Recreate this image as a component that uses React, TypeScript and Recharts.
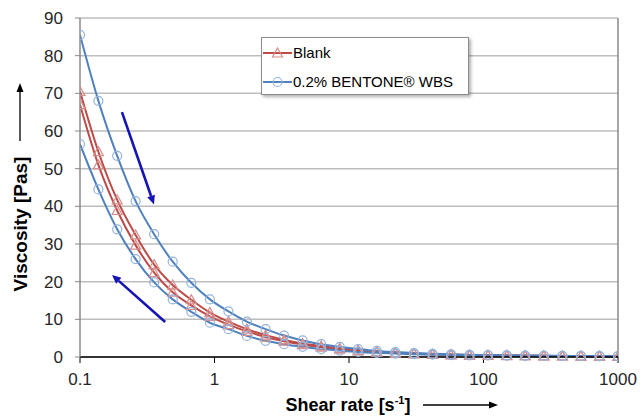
import React from "react";
import {
  CartesianGrid,
  Line,
  LineChart,
  ReferenceLine,
  XAxis,
  YAxis,
} from "recharts";

// shear rate [1/s], 30 log-spaced steps from 0.1 to 1000
const shearRates = [
  0.1, 0.137, 0.189, 0.259, 0.356, 0.489, 0.672, 0.924, 1.27, 1.74, 2.4, 3.29,
  4.52, 6.21, 8.53, 11.7, 16.1, 22.1, 30.4, 41.8, 57.4, 78.8, 108, 149, 204, 281,
  386, 530, 728, 1000,
];

// viscosity [Pas]
const blankUp = [
  70.5, 54.5, 41.7, 32.4, 24.5, 19.1, 15.2, 11.8, 9.4, 7.4, 5.8, 4.6, 3.6, 2.9,
  2.3, 1.8, 1.45, 1.15, 0.92, 0.75, 0.62, 0.52, 0.45, 0.4, 0.35, 0.31, 0.28, 0.25,
  0.22, 0.2,
];
const blankDown = [
  67, 51, 38.9, 29.7, 22.4, 17.2, 13.7, 10.8, 8.6, 6.8, 5.3, 4.2, 3.3, 2.6, 2.1,
  1.65, 1.3, 1.05, 0.85, 0.7, 0.58, 0.5, 0.43, 0.38, 0.34, 0.3, 0.27, 0.24, 0.21,
  0.19,
];
const bentoneUp = [
  85.5, 68, 53.4, 41.4, 32.6, 25.3, 19.7, 15.3, 12.1, 9.4, 7.4, 5.7, 4.4, 3.4,
  2.7, 2.1, 1.6, 1.3, 1.05, 0.85, 0.7, 0.58, 0.5, 0.43, 0.38, 0.33, 0.3, 0.27,
  0.24, 0.22,
];
const bentoneDown = [
  56.5, 44.5, 33.9, 26.0, 19.8, 15.3, 12.0, 9.1, 7.4, 5.6, 4.3, 3.4, 2.7, 2.1,
  1.7, 1.35, 1.1, 0.9, 0.75, 0.62, 0.52, 0.45, 0.4, 0.35, 0.31, 0.28, 0.26, 0.24,
  0.22, 0.2,
];

const xTicks = [0.1, 1, 10, 100, 1000];
const yTicks = [0, 10, 20, 30, 40, 50, 60, 70, 80, 90];

const seriesNames = ["Blank", "0.2% BENTONE® WBS"];

// sweep direction arrows [start, end] in data units
const upArrow = [
  { x: 0.205, y: 65 },
  { x: 0.355, y: 40.5 },
];
const downArrow = [
  { x: 0.43, y: 9.3 },
  { x: 0.173, y: 21.8 },
];

const data = shearRates.map((rate, i) => ({
  rate,
  blankUp: blankUp[i],
  blankDown: blankDown[i],
  bentoneUp: bentoneUp[i],
  bentoneDown: bentoneDown[i],
}));

const RED = "#be4b48";
const RED_MARK = "#d68d8b";
const BLUE = "#4f81bd";
const BLUE_MARK = "#93b3db";
const FONT = "'Liberation Sans', Arial, sans-serif";

const Triangle = (props: any) => {
  const { cx, cy, index } = props;
  if (cx == null || cy == null) return <g key={index} />;
  const s = 5;
  return (
    <polygon
      key={index}
      points={`${cx},${cy - s} ${cx - s},${cy + s * 0.8} ${cx + s},${cy + s * 0.8}`}
      fill="none"
      stroke={RED_MARK}
      strokeWidth={1.2}
    />
  );
};

const circleDot = { r: 4.5, stroke: BLUE_MARK, strokeWidth: 1.2, fill: "none" };

const Arrow = (props: any) => {
  const { x1, y1, x2, y2 } = props;
  const ang = Math.atan2(y2 - y1, x2 - x1);
  const len = 9;
  const w = 4;
  const bx = x2 - len * Math.cos(ang);
  const by = y2 - len * Math.sin(ang);
  const px = -Math.sin(ang) * w;
  const py = Math.cos(ang) * w;
  return (
    <g>
      <line x1={x1} y1={y1} x2={bx} y2={by} stroke="#1414b4" strokeWidth={2.6} />
      <polygon
        points={`${x2},${y2} ${bx + px},${by + py} ${bx - px},${by - py}`}
        fill="#1414b4"
      />
    </g>
  );
};

const XLabel = (props: any) => {
  const { viewBox } = props;
  const cx = viewBox.x + viewBox.width / 2;
  const y = viewBox.y + 54;
  return (
    <g>
      <text
        x={cx - 1}
        y={y}
        textAnchor="middle"
        fontFamily={FONT}
        fontWeight="bold"
        fontSize={18}
        fill="#000"
      >
        Shear rate [s
        <tspan fontSize={11} dy={-7}>
          -1
        </tspan>
        <tspan dy={7}>]</tspan>
      </text>
      <line x1={cx + 74} y1={y - 6} x2={cx + 144} y2={y - 6} stroke="#000" strokeWidth={1.3} />
      <polygon
        points={`${cx + 149},${y - 6} ${cx + 140},${y - 9.5} ${cx + 140},${y - 2.5}`}
        fill="#000"
      />
    </g>
  );
};

const YLabel = () => {
  const x = 20;
  const cy = 224;
  return (
    <g>
      <text
        x={x}
        y={cy}
        transform={`rotate(-90, ${x}, ${cy})`}
        textAnchor="middle"
        dominantBaseline="central"
        fontFamily={FONT}
        fontWeight="bold"
        fontSize={19}
        fill="#000"
      >
        Viscosity [Pas]
      </text>
      <line x1={x} y1={141} x2={x} y2={88} stroke="#000" strokeWidth={1.3} />
      <polygon points={`${x},${83} ${x - 3.5},${92} ${x + 3.5},${92}`} fill="#000" />
    </g>
  );
};

const LegendBox = () => (
  <div
    style={{
      position: "absolute",
      left: 261,
      top: 37,
      width: 206,
      height: 56,
      border: "1px solid #8c8c8c",
      boxShadow: "2px 2px 3px rgba(0,0,0,0.3)",
      background: "#fff",
      fontFamily: FONT,
      fontSize: 15,
      color: "#000",
    }}
  >
    {seriesNames.map((name, i) => (
      <div key={name} style={{ display: "flex", alignItems: "center", height: 29 }}>
        <svg width={31} height={16} style={{ display: "block" }}>
          <line x1={1} y1={8} x2={30} y2={8} stroke={i === 0 ? RED : BLUE} strokeWidth={2} />
          {i === 0 ? (
            <polygon points="15.5,3 10.5,12 20.5,12" fill="none" stroke={RED_MARK} strokeWidth={1.2} />
          ) : (
            <circle cx={15.5} cy={8} r={4.5} fill="none" stroke={BLUE_MARK} strokeWidth={1.2} />
          )}
        </svg>
        <span style={{ whiteSpace: "nowrap" }}>{name}</span>
      </div>
    ))}
  </div>
);

const App = () => {
  return (
    <div style={{ position: "absolute", left: 0, top: 0, width: 640, height: 417, background: "#fff" }}>
      <LineChart
        width={640}
        height={417}
        data={data}
        margin={{ top: 18, right: 22, bottom: 0, left: 0 }}
      >
        <CartesianGrid vertical={false} stroke="#bdbdbd" strokeWidth={1.5} />
        <XAxis
          dataKey="rate"
          type="number"
          scale="log"
          domain={[0.1, 1000]}
          ticks={xTicks}
          allowDataOverflow
          height={60}
          tickSize={6}
          tickMargin={10}
          stroke="#000"
          tickLine={{ stroke: "#000" }}
          axisLine={{ stroke: "#000", strokeWidth: 1.5 }}
          tick={{ fill: "#262626", fontSize: 17, fontFamily: FONT }}
          label={<XLabel />}
        />
        <YAxis
          type="number"
          domain={[0, 90]}
          ticks={yTicks}
          width={80}
          tickSize={5}
          tickMargin={12}
          axisLine={{ stroke: "#8a8a8a", strokeWidth: 1.5 }}
          tickLine={{ stroke: "#8a8a8a" }}
          tick={{ fill: "#262626", fontSize: 17, fontFamily: FONT }}
          label={<YLabel />}
        />
        <ReferenceLine x={1000} stroke="#8a8a8a" strokeWidth={1.5} />
        <Line
          dataKey="blankUp"
          type="monotone"
          stroke={RED}
          strokeWidth={2}
          dot={<Triangle />}
          activeDot={false}
          isAnimationActive={false}
        />
        <Line
          dataKey="blankDown"
          type="monotone"
          stroke={RED}
          strokeWidth={2}
          dot={<Triangle />}
          activeDot={false}
          isAnimationActive={false}
        />
        <Line
          dataKey="bentoneUp"
          type="monotone"
          stroke={BLUE}
          strokeWidth={2}
          dot={circleDot}
          activeDot={false}
          isAnimationActive={false}
        />
        <Line
          dataKey="bentoneDown"
          type="monotone"
          stroke={BLUE}
          strokeWidth={2}
          dot={circleDot}
          activeDot={false}
          isAnimationActive={false}
        />
        <ReferenceLine
          segment={upArrow}
          shape={(p: any) => <Arrow {...p} />}
          ifOverflow="visible"
        />
        <ReferenceLine
          segment={downArrow}
          shape={(p: any) => <Arrow {...p} />}
          ifOverflow="visible"
        />
      </LineChart>
      <LegendBox />
    </div>
  );
};

export default App;
